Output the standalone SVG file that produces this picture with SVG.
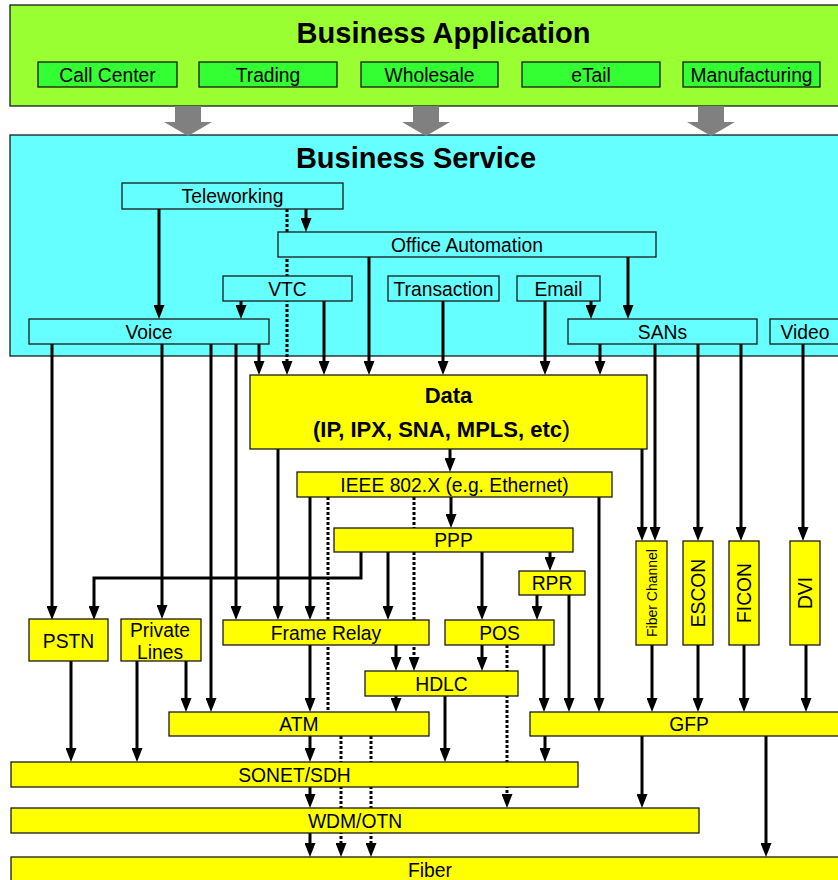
<svg xmlns="http://www.w3.org/2000/svg" width="838" height="880" viewBox="0 0 838 880">
  <style>
    .box { stroke: #1a1a1a; stroke-width: 1.3; }
    .app { fill: #99ff33; }
    .appitem { fill: #33ff33; }
    .svc { fill: #66ffff; }
    .net { fill: #ffff00; }
    text { font-family: "Liberation Sans", Arial, sans-serif; fill: #000; }
    .lbl { font-size: 19.3px; text-anchor: middle; }
    .title { font-size: 29px; font-weight: bold; text-anchor: middle; }
    .data { font-size: 22px; font-weight: bold; }
    .wire { fill: none; stroke: #000; stroke-width: 3; }
    .dot { stroke-dasharray: 3 2; }
    .arr { marker-end: url(#ah); }
    .fat { fill: #808080; }
  </style>
  <defs>
    <marker id="ah" viewBox="0 0 14 11" refX="1" refY="5.5" markerWidth="14" markerHeight="11" markerUnits="userSpaceOnUse" orient="auto">
      <path d="M0,0 L14,5.5 L0,11 z" fill="#000"/>
    </marker>
  </defs>

  <rect width="838" height="880" fill="#ffffff"/>

  <!-- top-level layers -->
  <g id="business-application">
    <rect class="box app" x="10" y="5" width="840" height="101"/>
    <text class="title" x="443.5" y="43">Business Application</text>
  </g>
  <g id="business-service">
    <rect class="box svc" x="10" y="135" width="840" height="221"/>
    <text class="title" x="416" y="168">Business Service</text>
  </g>

  <!-- connectors -->
  <g id="connectors">
    <!-- wide grey arrows from applications to services -->
    <polygon class="fat" points="175,106 201,106 201,122 212,122 188,136 164,122 175,122"/>
    <polygon class="fat" points="413,106 439,106 439,122 450,122 426,136 402,122 413,122"/>
    <polygon class="fat" points="698,106 724,106 724,122 735,122 711,136 687,122 698,122"/>

    <!-- service layer -->
    <path class="wire arr" d="M159 209 V306"/>
    <path class="wire arr" d="M306 209 V219"/>
    <path class="wire dot arr" d="M287 209 V362"/>
    <path class="wire arr" d="M241 301 V306"/>
    <path class="wire arr" d="M324 301 V362"/>
    <path class="wire arr" d="M369 257 V362"/>
    <path class="wire arr" d="M628 257 V306"/>
    <path class="wire arr" d="M443 301 V362"/>
    <path class="wire arr" d="M545 301 V362"/>
    <path class="wire arr" d="M591 301 V306"/>
    <path class="wire arr" d="M259 344 V362"/>
    <path class="wire arr" d="M600 344 V362"/>
    <path class="wire arr" d="M52 344 V607"/>
    <path class="wire arr" d="M162 344 V606"/>
    <path class="wire arr" d="M211 344 V699"/>
    <path class="wire arr" d="M236 344 V607"/>
    <path class="wire arr" d="M655 344 V528"/>
    <path class="wire arr" d="M698 344 V528"/>
    <path class="wire arr" d="M741 344 V528"/>
    <path class="wire arr" d="M803 344 V528"/>

    <!-- data -->
    <path class="wire arr" d="M278 449 V607"/>
    <path class="wire arr" d="M450 449 V459"/>
    <path class="wire arr" d="M642 449 V528"/>

    <!-- IEEE 802.X -->
    <path class="wire arr" d="M310 497 V607"/>
    <path class="wire dot" d="M328 497 V712"/>
    <path class="wire dot arr" d="M414 497 V658"/>
    <path class="wire arr" d="M451 497 V515"/>
    <path class="wire arr" d="M599 497 V699"/>

    <!-- PPP -->
    <path class="wire arr" d="M361 552 V578 H94 V607"/>
    <path class="wire arr" d="M388 552 V607"/>
    <path class="wire arr" d="M482 552 V607"/>
    <path class="wire arr" d="M550 552 V558"/>

    <!-- RPR -->
    <path class="wire arr" d="M537 595 V607"/>
    <path class="wire arr" d="M569 595 V699"/>

    <!-- Frame Relay / POS / HDLC -->
    <path class="wire arr" d="M310 645 V699"/>
    <path class="wire arr" d="M396 645 V658"/>
    <path class="wire arr" d="M482 645 V658"/>
    <path class="wire dot arr" d="M507 645 V795"/>
    <path class="wire arr" d="M544 645 V699"/>
    <path class="wire arr" d="M396 696 V699"/>
    <path class="wire arr" d="M445 696 V749"/>

    <!-- PSTN / Private Lines -->
    <path class="wire arr" d="M71 661 V749"/>
    <path class="wire arr" d="M137 661 V749"/>
    <path class="wire arr" d="M186 661 V699"/>

    <!-- storage / video links into GFP -->
    <path class="wire arr" d="M652 645 V699"/>
    <path class="wire arr" d="M698 645 V699"/>
    <path class="wire arr" d="M744 645 V699"/>
    <path class="wire arr" d="M806 645 V699"/>

    <!-- ATM / GFP down to the optical layers -->
    <path class="wire arr" d="M310 736 V749"/>
    <path class="wire arr" d="M310 787 V795"/>
    <path class="wire arr" d="M310 833 V844"/>
    <path class="wire dot arr" d="M341 736 V844"/>
    <path class="wire dot arr" d="M371 736 V844"/>
    <path class="wire arr" d="M545 736 V749"/>
    <path class="wire arr" d="M642 736 V795"/>
    <path class="wire arr" d="M766 736 V844"/>
  </g>

  <!-- applications -->
  <g id="call-center"><rect class="box appitem" x="38" y="62" width="139" height="25"/><text class="lbl" x="107.5" y="81.5">Call Center</text></g>
  <g id="trading"><rect class="box appitem" x="199" y="62" width="138" height="25"/><text class="lbl" x="268" y="81.5">Trading</text></g>
  <g id="wholesale"><rect class="box appitem" x="361" y="62" width="137" height="25"/><text class="lbl" x="429.5" y="81.5">Wholesale</text></g>
  <g id="etail"><rect class="box appitem" x="522" y="62" width="138" height="25"/><text class="lbl" x="591" y="81.5">eTail</text></g>
  <g id="manufacturing"><rect class="box appitem" x="683" y="62" width="137" height="25"/><text class="lbl" x="751.5" y="81.5">Manufacturing</text></g>

  <!-- services -->
  <g id="teleworking"><rect class="box svc" x="122" y="183" width="221" height="26"/><text class="lbl" x="232.5" y="203">Teleworking</text></g>
  <g id="office-automation"><rect class="box svc" x="278" y="232" width="378" height="25"/><text class="lbl" x="467" y="251.5">Office Automation</text></g>
  <g id="vtc"><rect class="box svc" x="223" y="276" width="129" height="25"/><text class="lbl" x="287.5" y="295.5">VTC</text></g>
  <g id="transaction"><rect class="box svc" x="388" y="276" width="111" height="25"/><text class="lbl" x="443.5" y="295.5">Transaction</text></g>
  <g id="email"><rect class="box svc" x="517" y="276" width="83" height="25"/><text class="lbl" x="558.5" y="295.5">Email</text></g>
  <g id="voice"><rect class="box svc" x="29" y="319" width="240" height="25"/><text class="lbl" x="149" y="338.5">Voice</text></g>
  <g id="sans"><rect class="box svc" x="568" y="319" width="189" height="25"/><text class="lbl" x="662.5" y="338.5">SANs</text></g>
  <g id="video"><rect class="box svc" x="770" y="319" width="72" height="25"/><text class="lbl" x="805" y="338.5">Video</text></g>

  <!-- transport / protocol layers -->
  <g id="data">
    <rect class="box net" x="250" y="375" width="397" height="74"/>
    <text class="data" x="448.5" y="403" text-anchor="middle">Data</text>
    <text class="data" x="313" y="437">(IP, IPX, SNA, MPLS, etc<tspan font-weight="normal" font-size="24px">)</tspan></text>
  </g>
  <g id="ieee-802x"><rect class="box net" x="297" y="472" width="315" height="25"/><text class="lbl" x="454.5" y="491.5">IEEE 802.X (e.g. Ethernet)</text></g>
  <g id="ppp"><rect class="box net" x="334" y="528" width="239" height="24"/><text class="lbl" x="453.5" y="547">PPP</text></g>
  <g id="rpr"><rect class="box net" x="519" y="571" width="66" height="24"/><text class="lbl" x="552" y="590">RPR</text></g>
  <g id="pstn"><rect class="box net" x="29" y="619" width="79" height="42"/><text class="lbl" x="68.5" y="647.5">PSTN</text></g>
  <g id="private-lines"><rect class="box net" x="121" y="619" width="80" height="42"/><text class="lbl" x="160" y="636.5">Private</text><text class="lbl" x="160" y="658.5">Lines</text></g>
  <g id="frame-relay"><rect class="box net" x="223" y="620" width="206" height="25"/><text class="lbl" x="326" y="639.5">Frame Relay</text></g>
  <g id="pos"><rect class="box net" x="445" y="620" width="109" height="25"/><text class="lbl" x="499.5" y="639.5">POS</text></g>
  <g id="fiber-channel"><rect class="box net" x="636" y="541" width="31" height="104"/><text font-size="14px" text-anchor="middle" transform="translate(656.5 593) rotate(-90)">Fiber Channel</text></g>
  <g id="escon"><rect class="box net" x="683" y="541" width="30" height="104"/><text class="lbl" font-size="18.8px" transform="translate(704.5 593) rotate(-90)">ESCON</text></g>
  <g id="ficon"><rect class="box net" x="729" y="541" width="30" height="104"/><text class="lbl" font-size="18.8px" transform="translate(750.5 593) rotate(-90)">FICON</text></g>
  <g id="dvi"><rect class="box net" x="790" y="541" width="30" height="104"/><text class="lbl" font-size="18.8px" transform="translate(811.5 593) rotate(-90)">DVI</text></g>
  <g id="hdlc"><rect class="box net" x="365" y="671" width="153" height="25"/><text class="lbl" x="441.5" y="690.5">HDLC</text></g>
  <g id="atm"><rect class="box net" x="169" y="712" width="260" height="24"/><text class="lbl" x="299" y="731">ATM</text></g>
  <g id="gfp"><rect class="box net" x="530" y="712" width="318" height="24"/><text class="lbl" x="689" y="731">GFP</text></g>
  <g id="sonet-sdh"><rect class="box net" x="11" y="762" width="567" height="25"/><text class="lbl" x="294.5" y="781.5">SONET/SDH</text></g>
  <g id="wdm-otn"><rect class="box net" x="11" y="808" width="688" height="25"/><text class="lbl" x="355" y="827.5">WDM/OTN</text></g>
  <g id="fiber"><rect class="box net" x="11" y="857" width="838" height="30"/><text class="lbl" x="430" y="876.5">Fiber</text></g>
</svg>
